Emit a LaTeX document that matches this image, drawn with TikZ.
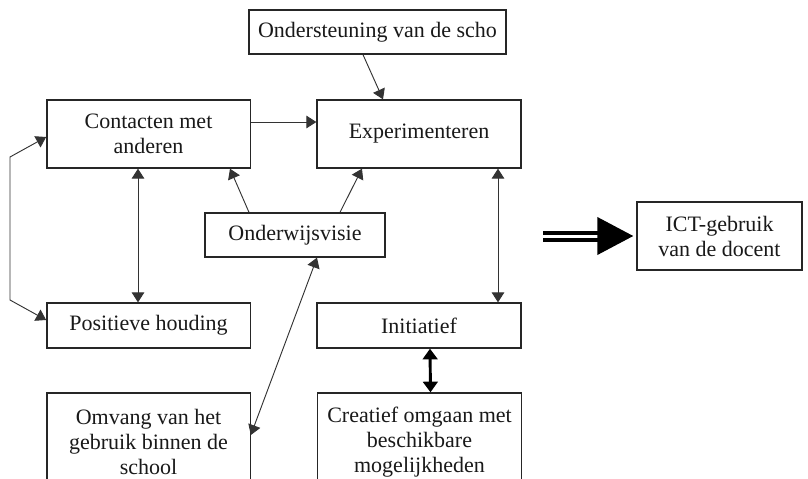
\documentclass[tikz,border=0pt]{standalone}
\usepackage{fontspec}
\setmainfont{Liberation Serif}
\usetikzlibrary{arrows.meta,calc}
\begin{document}
\begin{tikzpicture}[x=0.75pt,y=-0.75pt,
  box/.style={draw=black!85, line width=1pt, fill=white, align=center,
    inner sep=0pt, text=black!90,
    font=\fontsize{16.5}{18.75}\selectfont},
  tip/.style={Triangle[length=7.5pt,width=9.5pt]},
  conn/.style={draw=black!80, line width=0.7pt, -{Triangle[length=7.5pt,width=9.5pt]}},
  both/.style={draw=black!80, line width=0.7pt,
    {Triangle[length=7.5pt,width=9.5pt]}-{Triangle[length=7.5pt,width=9.5pt]}},
  boldboth/.style={draw=black, line width=2.2pt,
    {Triangle[length=8pt,width=11pt]}-{Triangle[length=8pt,width=11pt]}},
  bigarrow/.style={draw=black, line width=3pt, double=white, double distance=2.25pt,
    -{Triangle[length=27pt,width=27.75pt]}, shorten >=2.25pt},
]
\useasboundingbox (0,0) rectangle (808,479);
\clip (0,0) rectangle (808,479);

% boxes
\node[box, minimum width=192.75pt, minimum height=33pt] (ond) at (377.5,32) {Ondersteuning van de scho};
\node[box, minimum width=152.5pt, minimum height=51pt] (con) at (148.5,134) {Contacten met\\anderen};
\node[box, minimum width=153pt, minimum height=51pt] (exp) at (419,134) {Experimenteren};
\node[box, minimum width=135pt, minimum height=33pt] (vis) at (295,235) {Onderwijsvisie};
\node[box, minimum width=152.5pt, minimum height=33.75pt] (pos) at (148.5,325.5) {Positieve houding};
\node[box, minimum width=153pt, minimum height=33.75pt] (ini) at (419,325.5) {Initiatief};
\node[box, minimum width=152.5pt, minimum height=73.5pt] (omv) at (148.5,442) {Omvang van het\\gebruik binnen de\\school};
\node[box, minimum width=153pt, minimum height=73.5pt] (cre) at (419.5,442) {Creatief omgaan met\\beschikbare\\mogelijkheden};
\node[box, minimum width=123.75pt, minimum height=51pt] (ict) at (719.5,236) {ICT-gebruik\\van de docent};

% connectors
\draw[conn] ($(ond.south)+(-14.5,0)$) -- ($(exp.north)+(-36,0)$);
\draw[conn] ($(con.east)+(0,-12)$) -- ($(exp.west)+(0,-12)$);
\draw[both] ($(con.south)+(-10.5,0)$) -- ($(pos.north)+(-10.5,0)$);
\draw[both] ($(exp.south)+(79,0)$) -- ($(ini.north)+(79,0)$);
\draw[conn] ($(vis.north)+(-46,0)$) -- ($(con.south)+(81.5,0)$);
\draw[conn] ($(vis.north)+(45,0)$) -- ($(exp.south)+(-57,0)$);
\draw[both] ($(vis.south)+(22,0)$) -- ($(omv.east)+(0,-7)$);
\draw[boldboth] ($(ini.south)+(11,0)$) -- ($(cre.north)+(11,0)$);

% loop on the left
\coordinate (loopT) at (10,157);
\coordinate (loopB) at (10,300);
\draw[both] ($(con.west)+(0,3)$) -- (loopT) -- (loopB) -- ($(pos.west)+(0,-5.5)$);

% resulting effect
\coordinate (bigsrc) at (543,236);
\draw[bigarrow] (bigsrc) -- (ict.west);
\end{tikzpicture}
\end{document}
